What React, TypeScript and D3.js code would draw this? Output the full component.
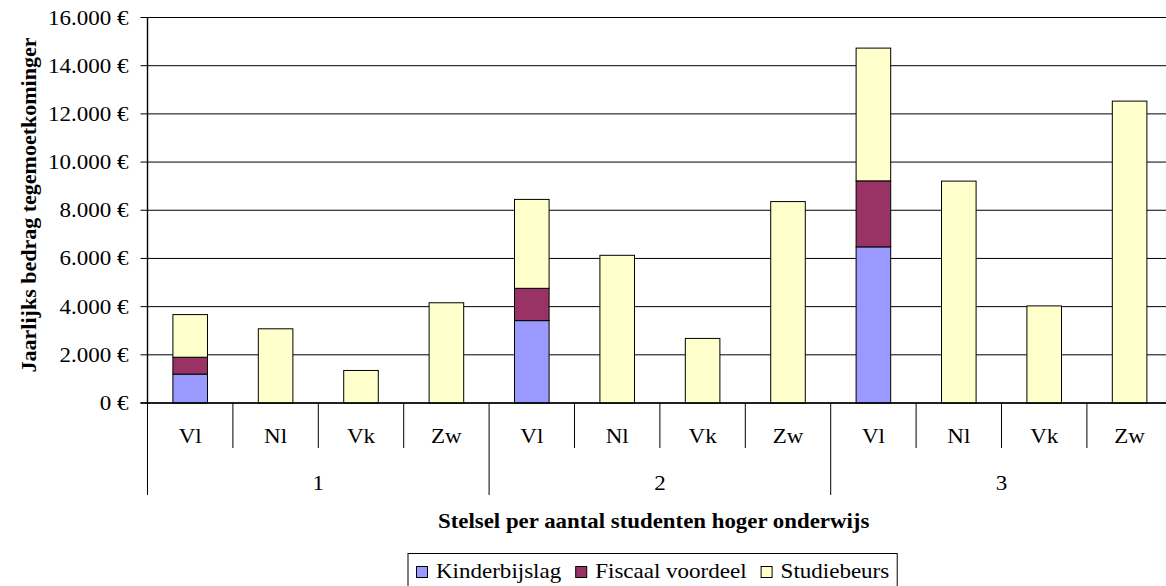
import React from "react";
import * as d3 from "d3";

const groups = ["1", "2", "3"];
const countries = ["Vl", "Nl", "Vk", "Zw"];
const seriesNames = ["Kinderbijslag", "Fiscaal voordeel", "Studiebeurs"];
const seriesColors = ["#9999FF", "#993366", "#FFFFCC"];
const kinderbijslag = [1200, 0, 0, 0, 3420, 0, 0, 0, 6480, 0, 0, 0];
const fiscaalVoordeel = [700, 0, 0, 0, 1340, 0, 0, 0, 2740, 0, 0, 0];
const studiebeurs = [1770, 3080, 1350, 4160, 3690, 6130, 2680, 8360, 5510, 9210, 4030, 12530];
const yTicks = [0, 2000, 4000, 6000, 8000, 10000, 12000, 14000, 16000];
const xTitle = "Stelsel per aantal studenten hoger onderwijs";
const yTitle = "Jaarlijks bedrag tegemoetkominger";

const W = 1166;
const H = 586;
const plotLeft = 147.5;
const catW = 85.4;
const plotTop = 17.5;
const plotBottom = 403;
const font = "'Liberation Serif', Tinos, 'Times New Roman', Times, 'Nimbus Roman', 'Nimbus Roman No9 L', FreeSerif, 'Noto Serif', 'DejaVu Serif', serif";
const FS = 21;
const EM = 23; // px per em along baseline

// Times-like advance widths (per 1000 em) for computing text lengths
const regW: Record<string, number> = {
  " ": 250, ".": 250, "€": 500, V: 722, l: 278, N: 722, k: 500, Z: 611, w: 722, K: 722, i: 278,
  n: 500, d: 500, e: 444, r: 333, b: 500, j: 278, s: 389, a: 444, g: 500, F: 556, c: 444,
  v: 500, o: 500, S: 556, t: 278, u: 500,
};
const boldW: Record<string, number> = {
  " ": 250, J: 500, a: 500, r: 444, l: 278, i: 278, j: 333, k: 556, s: 389, b: 556, e: 444,
  d: 556, g: 500, t: 333, m: 833, o: 500, n: 556, S: 556, p: 556, u: 556, h: 556, w: 722,
};
const emWidth = (s: string, bold = false) =>
  s.split("").reduce((acc, ch) => acc + (/[0-9]/.test(ch) ? 500 : (bold ? boldW : regW)[ch] ?? 500), 0) / 1000;

export default function App() {
  const cats = groups.flatMap((g) => countries.map((c) => `${g}-${c}`));
  const x = d3
    .scaleBand()
    .domain(cats)
    .range([plotLeft, plotLeft + catW * cats.length])
    .paddingInner(0.595)
    .paddingOuter(0.2975);
  const y = d3.scaleLinear().domain([0, 16000]).range([plotBottom, plotTop]);
  const plotRight = plotLeft + catW * cats.length;

  const rows = cats.map((c, i) => ({
    cat: c,
    Kinderbijslag: kinderbijslag[i],
    "Fiscaal voordeel": fiscaalVoordeel[i],
    Studiebeurs: studiebeurs[i],
  }));
  const stacked = d3.stack<any>().keys(seriesNames)(rows);
  const fmt = (v: number) => d3.format(",")(v).replace(/,/g, ".") + " €";

  const groupW = catW * countries.length;
  const ts = { fontFamily: font } as React.CSSProperties;

  // legend layout
  const legX = 408;
  const legY = 553.5;
  let cursor = 416;
  const legendItems = seriesNames.map((name) => {
    const sx = cursor;
    const tx = sx + 20;
    const tl = emWidth(name) * EM;
    cursor = tx + tl + 14;
    return { name, sx, tx, tl };
  });
  const legRight = cursor - 6;

  const T = (props: any) => {
    const { text, bold, em, ...rest } = props;
    return (
      <text
        {...rest}
        style={ts}
        fontSize={FS}
        fontWeight={bold ? "bold" : "normal"}
        textLength={emWidth(text, bold) * (em ?? EM)}
        lengthAdjust="spacingAndGlyphs"
      >
        {text}
      </text>
    );
  };

  return (
    <svg width={W} height={H} style={{ position: "absolute", left: 0, top: 0, background: "#fff" }}>
      <rect x={0} y={0} width={W} height={H} fill="#fff" />
      {yTicks.map((t) => (
        <line key={t} x1={plotLeft} x2={plotRight} y1={y(t)} y2={y(t)} stroke="#000" strokeWidth={1} />
      ))}
      {yTicks.map((t) => (
        <g key={"yt" + t}>
          <line x1={plotLeft - 7} x2={plotLeft} y1={y(t)} y2={y(t)} stroke="#000" />
          <T text={fmt(t)} x={128.5 - emWidth(fmt(t)) * EM} y={y(t) + 7} />
        </g>
      ))}
      {stacked.map((s, si) => (
        <g key={s.key}>
          {s.map((d, i) =>
            d[1] - d[0] > 0 ? (
              <rect
                key={i}
                x={x(cats[i])}
                width={x.bandwidth()}
                y={y(d[1])}
                height={y(d[0]) - y(d[1])}
                fill={seriesColors[si]}
                stroke="#000"
                strokeWidth={1}
              />
            ) : null
          )}
        </g>
      ))}
      <line x1={plotLeft} x2={plotLeft} y1={plotTop} y2={plotBottom} stroke="#000" strokeWidth={1.4} />
      <line x1={plotLeft - 7} x2={plotRight} y1={plotBottom} y2={plotBottom} stroke="#000" strokeWidth={1.4} />
      {d3.range(cats.length + 1).map((i) => {
        const xx = plotLeft + i * catW;
        const isGroup = i % countries.length === 0;
        return (
          <line key={"ct" + i} x1={xx} x2={xx} y1={plotBottom} y2={isGroup ? 495 : 448} stroke="#000" strokeWidth={1} />
        );
      })}
      {cats.map((c, i) => {
        const lab = countries[i % countries.length];
        const cx = (x(c) as number) + x.bandwidth() / 2;
        return <T key={"cl" + c} text={lab} x={cx - (emWidth(lab) * EM) / 2} y={443} />;
      })}
      {groups.map((g, gi) => {
        const cx = plotLeft + gi * groupW + groupW / 2;
        return <T key={"gl" + g} text={g} x={cx - (emWidth(g) * EM) / 2} y={490} />;
      })}
      <T text={xTitle} bold x={438} y={528} em={22.8} />
      <g transform={`translate(36, ${205 + (emWidth(yTitle, true) * 22) / 2}) rotate(-90)`}>
        <T text={yTitle} bold x={0} y={0} em={22} />
      </g>
      <rect x={legX} y={legY} width={legRight - legX} height={45} fill="#fff" stroke="#000" strokeWidth={1} />
      {legendItems.map((it, i) => (
        <g key={it.name}>
          <rect x={it.sx + 0.5} y={566.5} width={11} height={11} fill={seriesColors[i]} stroke="#000" />
          <T text={it.name} x={it.tx} y={578} />
        </g>
      ))}
    </svg>
  );
}
